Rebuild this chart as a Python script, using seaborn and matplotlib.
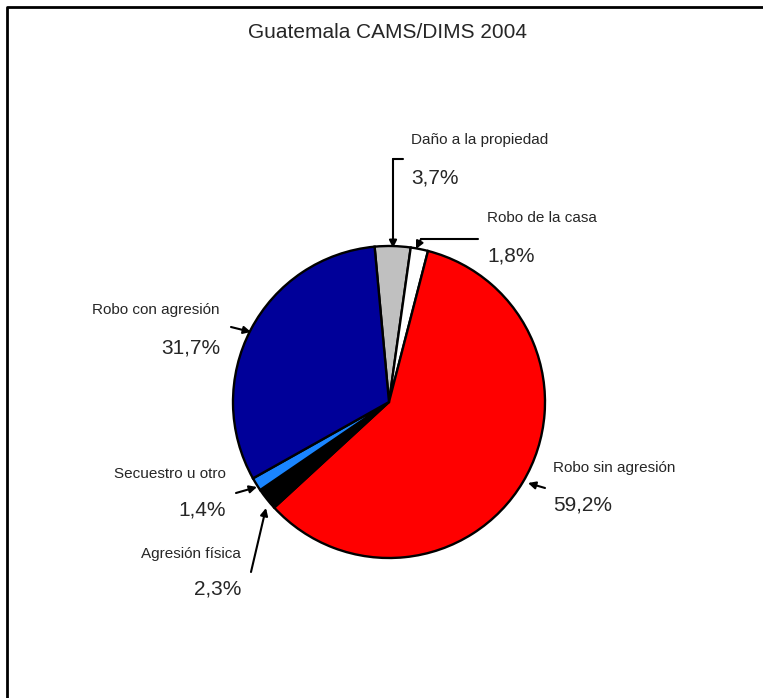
import matplotlib
matplotlib.use("Agg")
import matplotlib.pyplot as plt
import seaborn as sns

sns.set_style("white")
plt.rcParams['font.family'] = ['Liberation Sans', 'DejaVu Sans']

# Data (clockwise from the top)
categories = ["Daño a la propiedad", "Robo de la casa", "Robo sin agresión",
              "Agresión física", "Secuestro u otro", "Robo con agresión"]
shares = [3.7, 1.8, 59.2, 2.3, 1.4, 31.7]
pct_labels = ["3,7%", "1,8%", "59,2%", "2,3%", "1,4%", "31,7%"]
colors = ["#C0C0C0", "#FFFFFF", "#FF0000", "#000000", "#1A85FF", "#000099"]

W, H = 763, 698
fig = plt.figure(figsize=(W / 100, H / 100), dpi=100)
ax = fig.add_axes([0, 0, 1, 1])

# frame (top and left edges visible)
ax.plot([7, 7, W], [0, H - 7, H - 7], color="black", lw=2, solid_capstyle="butt")

ax.text(388, H - 32, "Guatemala CAMS/DIMS 2004", ha="center", va="center", fontsize=15)

cx, cy, r = 389, H - 402, 156
ax.pie(shares, colors=colors, startangle=95.3, counterclock=False,
       center=(cx, cy), radius=r, frame=True,
       wedgeprops=dict(edgecolor="black", linewidth=1.7))
ax.set_xlim(0, W)
ax.set_ylim(0, H)
ax.axis("off")

# label positions (name, percent) and alignment
label_pos = {
    "Daño a la propiedad": (411, 140, 178, "left"),
    "Robo de la casa": (487, 218, 256, "left"),
    "Robo sin agresión": (553, 468, 505, "left"),
    "Agresión física": (241, 554, 589, "right"),
    "Secuestro u otro": (226, 474, 510, "right"),
    "Robo con agresión": (220, 310, 348, "right"),
}
for name, pct in zip(categories, pct_labels):
    x, y1, y2, ha = label_pos[name]
    ax.text(x, H - y1, name, ha=ha, va="center", fontsize=11)
    ax.text(x, H - y2, pct, ha=ha, va="center", fontsize=15)

arrow = dict(arrowstyle="-|>", color="black", lw=1.5, mutation_scale=11, shrinkA=0, shrinkB=0)

# elbow leaders
ax.plot([403, 393], [H - 159, H - 159], color="black", lw=1.5)
ax.annotate("", xy=(393, H - 248), xytext=(393, H - 159), arrowprops=arrow)
ax.plot([478, 421], [H - 239, H - 239], color="black", lw=1.5)
ax.annotate("", xy=(416, H - 249), xytext=(421, H - 239), arrowprops=arrow)

# straight leaders
for (x0, y0), (x1, y1) in [((231, 327), (251, 332)),
                           ((236, 493), (257, 487)),
                           ((251, 572), (266, 508)),
                           ((545, 488), (528, 483))]:
    ax.annotate("", xy=(x1, H - y1), xytext=(x0, H - y0), arrowprops=arrow)

fig.savefig("out.png", dpi=100)
